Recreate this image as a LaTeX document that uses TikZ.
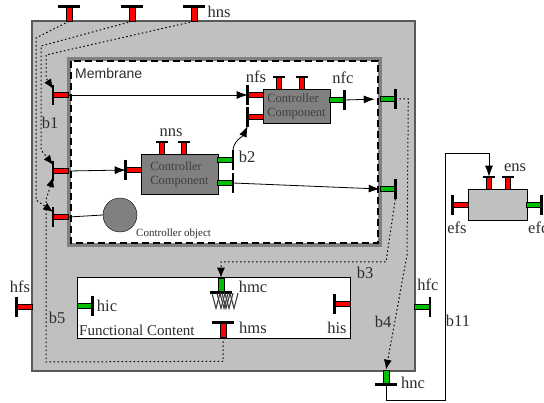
\documentclass[tikz,border=0pt]{standalone}
\usepackage{fontspec}
\setmainfont{Liberation Serif}
\newfontfamily\membranefont{Liberation Sans}
\usetikzlibrary{arrows.meta}
\definecolor{portred}{RGB}{255,0,0}
\definecolor{portgreen}{RGB}{0,190,0}
\definecolor{shellgray}{RGB}{192,192,192}
\definecolor{compgray}{RGB}{128,128,128}
\definecolor{labelgray}{RGB}{45,45,45}

\begin{document}
\begin{tikzpicture}[x=1pt, y=-1pt,
  lbl/.style={text=labelgray, font=\fontsize{16.5}{18}\selectfont, inner sep=0pt},
  comp/.style={rectangle, draw=black, thin, fill=compgray, text=black!75, align=left, font=\fontsize{12.5}{14}\selectfont, inner sep=1pt},
  stem/.style={draw=black, line width=0.6pt, inner sep=0pt},
  sp/.style={stem, fill=portred},
  cp/.style={stem, fill=portgreen},
  hstem/.style={minimum width=15pt, minimum height=5.5pt},
  vstem/.style={minimum width=6pt, minimum height=14pt},
  portbar/.style={draw=black, line width=2.5pt},
  barN/.style={vstem, append after command={([xshift=-11pt]\tikzlastnode.north) edge[portbar] ([xshift=11pt]\tikzlastnode.north)}},
  barNs/.style={minimum width=4.5pt, minimum height=12pt, append after command={([xshift=-6pt]\tikzlastnode.north) edge[portbar, line width=2pt] ([xshift=6pt]\tikzlastnode.north)}},
  barS/.style={vstem, append after command={([xshift=-11pt]\tikzlastnode.south) edge[portbar] ([xshift=11pt]\tikzlastnode.south)}},
  barW/.style={hstem, append after command={([yshift=10pt]\tikzlastnode.west) edge[portbar] ([yshift=-10pt]\tikzlastnode.west)}},
  barE/.style={hstem, append after command={([yshift=10pt]\tikzlastnode.east) edge[portbar] ([yshift=-10pt]\tikzlastnode.east)}},
  arrow/.style={-{Latex[length=11pt,width=8pt]}, line width=0.8pt},
  dotarrow/.style={-{Latex[length=10pt,width=8pt]}, line width=1pt, dash pattern=on 1.5pt off 2.5pt}
]
\useasboundingbox (0,0) rectangle (544,403);

% shell, membrane and functional content
\filldraw[fill=shellgray, draw=gray!70!black, line width=1.2pt] (32,21) rectangle (415,371);
\fill[compgray] (67,57) rectangle (382,247);
\draw[fill=white, line width=1.5pt, dash pattern=on 7pt off 4pt] (71,61) rectangle (378,243);
\draw[fill=white, line width=0.8pt] (77,277) rectangle (350,338);
\node[anchor=west, inner sep=0pt, text=labelgray, font=\membranefont\fontsize{14}{16}\selectfont] (mem) at (75,73) {Membrane};
\node[anchor=west, lbl, font=\fontsize{15}{17}\selectfont] (fc) at (79,330) {Functional Content};

% components
\node[comp, minimum width=67pt, minimum height=34pt] (cu) at (296.5,106) {Controller\\Component};
\node[comp, minimum width=77pt, minimum height=40pt] (cl) at (179.5,174) {Controller\\Component};
\node[rectangle, draw=black, thin, fill=shellgray, minimum width=59pt, minimum height=31pt] (ext) at (497.5,204.5) {};
\node[circle, draw=black, thin, fill=compgray, minimum size=34pt, inner sep=0pt] (cobj) at (120,215) {};
\node[anchor=west, text=labelgray, inner sep=0pt, font=\fontsize{11}{13}\selectfont] (lcobj) at (136,234) {Controller object};

% ports
\node[sp, barN] (hns1) at (69,14) {};
\node[sp, barN] (hns2) at (132,14) {};
\node[sp, barN] (hns3) at (194,14) {};
\node[sp, barW] (mL1) at (61,95) {};
\node[sp, barW] (mL2) at (61,171) {};
\node[sp, barW] (mL3) at (61,217) {};
\node[cp, barE] (mR1) at (387.5,99) {};
\node[cp, barE] (mR2) at (387.5,189) {};
\node[sp, barW] (nfs1) at (255.5,95) {};
\node[sp, barW] (nfs2) at (255.5,117) {};
\node[sp, barNs] (cuN1) at (279,83) {};
\node[sp, barNs] (cuN2) at (302,83) {};
\node[cp, barE] (nfc) at (336.5,100) {};
\node[sp, barW] (clW) at (133.5,170) {};
\node[sp, barNs] (nns1) at (162,148) {};
\node[sp, barNs] (nns2) at (184,148) {};
\node[cp, barE] (clE1) at (225,160) {};
\node[cp, barE] (clE2) at (225,183) {};
\node[cp, barE] (hic) at (84.5,306) {};
\node[sp, barW] (his) at (342.5,304) {};
\node[cp, barS] (hmc) at (221,285) {};
\node[sp, barN] (hms) at (223,330) {};
\node[sp, barW] (hfs) at (24.5,307) {};
\node[cp, barE] (hfc) at (422,307) {};
\node[cp, barS] (hnc) at (386,377) {};
\node[sp, barNs] (ens1) at (489,183) {};
\node[sp, barNs] (ens2) at (508,183) {};
\node[sp, barW] (efs) at (460.5,205) {};
\node[cp, barE] (efc) at (533.5,205) {};

% spring under hmc
\foreach \dx in {0,5,10}
  \draw[black!75, line width=1.1pt] (hmc.south) ++(-9+\dx,1) -- ++(4,15) -- ++(4,-15) -- ++(4,15) -- ++(4,-15);

% connectors
\draw[arrow] (mL1.east) -- (nfs1.west);
\draw[arrow] (mL2.east) -- (clW.west);
\draw[line width=0.8pt] (mL3.east) -- (cobj.west);
\draw[arrow] ([yshift=8pt]clE1.east) to[out=88, in=245] ([yshift=-9pt]nfs2.west);
\draw[arrow, shorten >=5pt] (nfc.east) -- (mR1.west);
\draw[arrow] (clE2.east) -- (mR2.west);

% bindings
\draw[dotarrow] (hns1.south) -- (36,38) -- (36,200) -- ([yshift=5pt]mL3.west);
\draw[dotarrow] (hns2.south) -- (41,46) -- (41,150) -- ([yshift=6pt]mL2.west);
\draw[dotarrow] (hns3.south) -- (46,55) -- (46,78) -- ([yshift=6pt]mL1.west);
\draw[dotarrow] (hms.south) -- ++(0,24) -- (46,362) -- (46,200) -- ([yshift=-6pt]mL2.west);
\draw[dotarrow] ([yshift=-10pt]mR2.east) -- (386,262) -| (hmc.north);
\draw[dotarrow] (mR1.east) -- ++(13,0) -- (407,255) -- (hnc.north);
\draw[arrow] (hnc.south) -- ++(0,16) -| (445,153) -| (ens1.north);

% labels
\node[lbl] (lhns) at (219,12) {hns};
\node[lbl] (lnfs) at (256,77) {nfs};
\node[lbl] (lnfc) at (343,78) {nfc};
\node[lbl] (lnns) at (171,133) {nns};
\node[lbl] (lb1) at (50,123) {b1};
\node[lbl] (lb2) at (247,157) {b2};
\node[lbl] (lb3) at (365,273) {b3};
\node[lbl] (lb4) at (383,322) {b4};
\node[lbl] (lb5) at (57,318) {b5};
\node[lbl] (lb11) at (458,321) {b11};
\node[lbl] (lhfs) at (20,287) {hfs};
\node[lbl] (lhic) at (107,306) {hic};
\node[lbl] (lhmc) at (253,287) {hmc};
\node[lbl] (lhms) at (253,328) {hms};
\node[lbl] (lhis) at (337,328) {his};
\node[lbl] (lhfc) at (428,285) {hfc};
\node[lbl] (lhnc) at (413,383) {hnc};
\node[lbl] (lens) at (515,168) {ens};
\node[lbl] (lefs) at (457,228) {efs};
\node[lbl, anchor=west] (lefc) at (528,228) {efc};
\end{tikzpicture}
\end{document}
